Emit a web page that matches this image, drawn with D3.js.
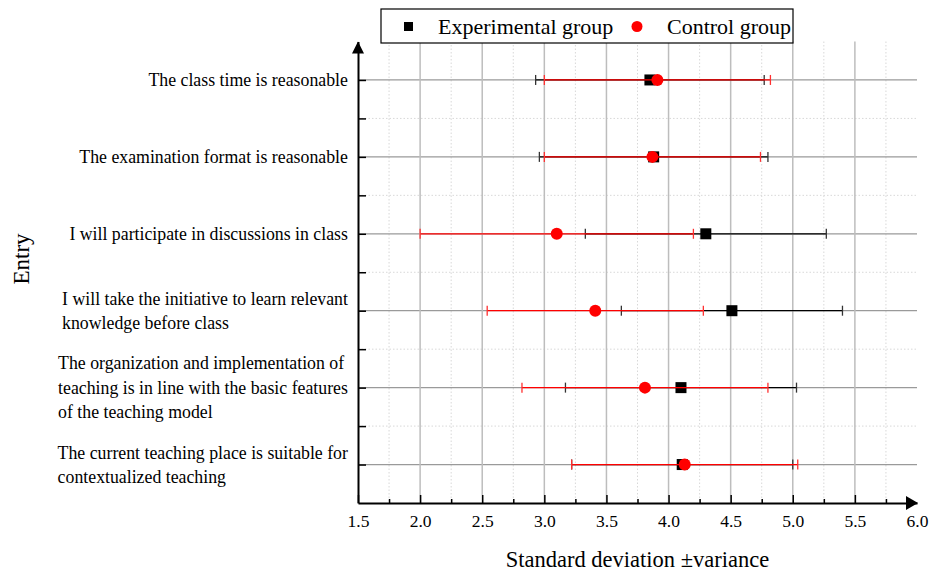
<!DOCTYPE html>
<html>
<head>
<meta charset="utf-8">
<script src="https://cdn.jsdelivr.net/npm/d3@7"></script>
<style>
  html, body { margin: 0; padding: 0; background: #fff; }
  svg { display: block; font-family: "Liberation Serif", "Times New Roman", serif; }
</style>
</head>
<body>
<svg id="chart" width="930" height="574"></svg>
<script>
// entries, top to bottom ("\n" = line break in the label)
const CATEGORIES = [
  "The class time is reasonable",
  "The examination format is reasonable",
  "I will participate in discussions in class",
  "I will take the initiative to learn relevant\nknowledge before class",
  "The organization and implementation of\nteaching is in line with the basic features\nof the teaching model",
  "The current teaching place is suitable for\ncontextualized teaching",
];
const EXP_MEAN = [3.85, 3.88, 4.30, 4.51, 4.10, 4.11];
const EXP_SD   = [0.92, 0.92, 0.97, 0.89, 0.93, 0.89];
const CTRL_MEAN = [3.91, 3.87, 3.10, 3.41, 3.81, 4.13];
const CTRL_SD   = [0.91, 0.87, 1.10, 0.87, 0.99, 0.91];
const X_TICKS = [1.5, 2.0, 2.5, 3.0, 3.5, 4.0, 4.5, 5.0, 5.5, 6.0];
const X_MINOR = [1.75, 2.25, 2.75, 3.25, 3.75, 4.25, 4.75, 5.25, 5.75];

const svg = d3.select("#chart");
const L = 358, R = 917, T = 41.5, B = 503;
const SERIF = "Liberation Serif, Times New Roman, serif";

const x = d3.scaleLinear().domain([1.5, 6.0]).range([L, R]);
const y = d3.scaleLinear().domain([-0.5, 5.5]).range([T, B]);
const rows = d3.range(CATEGORIES.length);
const midRows = d3.range(CATEGORIES.length - 1).map(i => i + 0.5);

// ---------- grid ----------
const grid = svg.append("g");
grid.selectAll("line.vmin").data(X_MINOR).join("line")
  .attr("x1", d => x(d)).attr("x2", d => x(d)).attr("y1", T).attr("y2", B)
  .attr("stroke", "#d8d8d8").attr("stroke-width", 1).attr("stroke-dasharray", "1.5,2");
grid.selectAll("line.hmin").data(midRows).join("line")
  .attr("x1", L).attr("x2", R).attr("y1", d => y(d)).attr("y2", d => y(d))
  .attr("stroke", "#d8d8d8").attr("stroke-width", 1).attr("stroke-dasharray", "1.5,2");
grid.selectAll("line.hmaj").data(rows).join("line")
  .attr("x1", L).attr("x2", R).attr("y1", d => y(d)).attr("y2", d => y(d))
  .attr("stroke", "#9a9a9a").attr("stroke-width", 1.2);
grid.selectAll("line.vmaj").data(X_TICKS.filter(v => v > 1.5 && v < 6)).join("line")
  .attr("x1", d => x(d)).attr("x2", d => x(d)).attr("y1", T).attr("y2", B)
  .attr("stroke", "#bdbdbd").attr("stroke-width", 1.5);

// ---------- error bars + markers ----------
const CAP = 5;
function drawSeries(means, sds, color, capColor, lineW, marker) {
  const g = svg.append("g");
  const d = rows.map(i => ({ i, m: means[i], s: sds[i] }));
  g.selectAll("line.bar").data(d).join("line")
    .attr("x1", r => x(r.m - r.s)).attr("x2", r => x(r.m + r.s))
    .attr("y1", r => y(r.i)).attr("y2", r => y(r.i))
    .attr("stroke", color).attr("stroke-width", lineW);
  ["lo", "hi"].forEach(side => {
    g.selectAll(`line.cap-${side}`).data(d).join("line")
      .attr("class", `cap-${side}`)
      .attr("x1", r => x(side === "lo" ? r.m - r.s : r.m + r.s))
      .attr("x2", r => x(side === "lo" ? r.m - r.s : r.m + r.s))
      .attr("y1", r => y(r.i) - CAP).attr("y2", r => y(r.i) + CAP)
      .attr("stroke", capColor).attr("stroke-width", 1.3);
  });
  if (marker === "square") {
    g.selectAll("rect").data(d).join("rect")
      .attr("x", r => x(r.m) - 5.5).attr("y", r => y(r.i) - 5.5)
      .attr("width", 11).attr("height", 11).attr("fill", color);
  } else {
    g.selectAll("circle").data(d).join("circle")
      .attr("cx", r => x(r.m)).attr("cy", r => y(r.i)).attr("r", 6).attr("fill", color);
  }
}
drawSeries(EXP_MEAN, EXP_SD, "#000", "#333", 1.3, "square");
drawSeries(CTRL_MEAN, CTRL_SD, "#ff0000", "#ff3030", 1.2, "circle");

// ---------- axes ----------
const xAxis = svg.append("g").attr("transform", `translate(0,${B})`)
  .call(d3.axisBottom(x).tickValues(X_TICKS).tickFormat(d3.format(".1f"))
    .tickSizeInner(-8).tickSizeOuter(0).tickPadding(12));
xAxis.select(".domain").attr("stroke", "#000").attr("stroke-width", 2);
xAxis.selectAll(".tick line").attr("stroke", "#000").attr("stroke-width", 1.5)
  .filter(d => d === 6.0).remove();
xAxis.selectAll("text").attr("font-family", SERIF).attr("font-size", 17.5).attr("fill", "#000");
const xMinor = svg.append("g").attr("transform", `translate(0,${B})`)
  .call(d3.axisBottom(x).tickValues(X_MINOR).tickFormat("").tickSizeInner(-4).tickSizeOuter(0));
xMinor.select(".domain").remove();
xMinor.selectAll(".tick line").attr("stroke", "#000").attr("stroke-width", 1.5);

const yAxis = svg.append("g").attr("transform", `translate(${L},0)`)
  .call(d3.axisLeft(y).tickValues(rows.concat(midRows)).tickFormat("")
    .tickSizeInner(-8).tickSizeOuter(0));
yAxis.select(".domain").attr("stroke", "#000").attr("stroke-width", 2);
yAxis.selectAll(".tick line").attr("stroke", "#000").attr("stroke-width", 1.5);

// arrows
svg.append("path").attr("d", `M${R - 11},${B - 7}L${R + 1},${B}L${R - 11},${B + 7}Z`).attr("fill", "#000");
svg.append("path").attr("d", `M${L - 6},${T + 12}L${L},${T}L${L + 6},${T + 12}Z`).attr("fill", "#000");

// ---------- entry labels ----------
const LINE_H = 24.5;
CATEGORIES.forEach((c, i) => {
  const lines = c.split("\n");
  const t = svg.append("text").attr("font-size", 17.8).attr("fill", "#000")
    .attr("y", y(i) - (lines.length - 1) * LINE_H / 2);
  lines.forEach((ln, k) => {
    t.append("tspan").attr("x", 0).attr("dy", k === 0 ? "0.35em" : LINE_H).text(ln);
  });
  const w = t.node().getBBox().width;
  t.attr("transform", `translate(${348 - w},0)`);
});

// ---------- titles ----------
svg.append("text").attr("x", (L + R) / 2).attr("y", 567).attr("text-anchor", "middle")
  .attr("font-size", 22.5).text("Standard deviation \u00B1variance");
svg.append("text").attr("transform", "translate(29,259) rotate(-90)").attr("text-anchor", "middle")
  .attr("font-size", 23).text("Entry");

// ---------- legend ----------
const lg = svg.append("g");
lg.append("rect").attr("x", 381).attr("y", 9).attr("width", 412).attr("height", 34)
  .attr("fill", "#fff").attr("stroke", "#000").attr("stroke-width", 1.2);
lg.append("rect").attr("x", 404).attr("y", 22).attr("width", 9).attr("height", 9).attr("fill", "#000");
lg.append("text").attr("x", 438).attr("y", 34).attr("font-size", 22).text("Experimental group");
lg.append("circle").attr("cx", 637).attr("cy", 26.5).attr("r", 5.5).attr("fill", "#ff0000");
lg.append("text").attr("x", 667).attr("y", 34).attr("font-size", 22).text("Control group");
</script>
</body>
</html>
